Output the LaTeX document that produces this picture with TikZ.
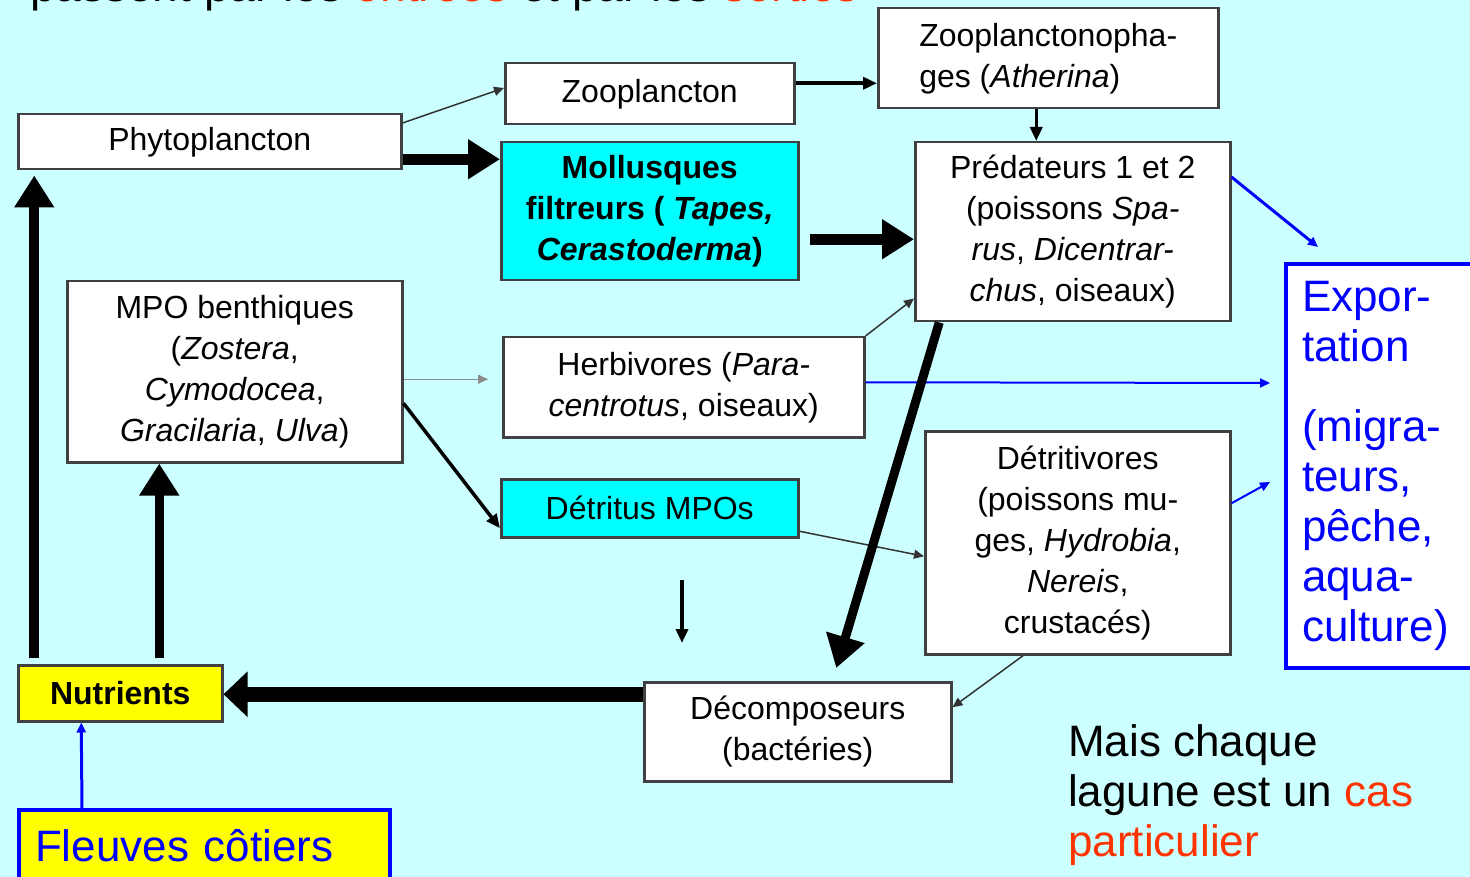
\documentclass[tikz,border=0pt]{standalone}
\usepackage{fontspec}
\setmainfont{Liberation Sans}
\usepackage{xcolor}
\usetikzlibrary{arrows.meta,calc}

\definecolor{lagoon}{HTML}{CCFFFF}
\definecolor{cyanbox}{HTML}{00FFFF}
\definecolor{expblue}{HTML}{0000FF}
\definecolor{redtxt}{HTML}{FF3300}
\definecolor{nutyellow}{HTML}{FFFF00}

\newcommand{\boxfont}{\fontsize{32}{41}\selectfont}
\newcommand{\bigfont}{\fontsize{44}{50}\selectfont}

\begin{document}
\begin{tikzpicture}[
    x=1pt, y=-1pt,
    box/.style={rectangle, draw=black!75, line width=2.5pt, fill=white, align=center, anchor=north west, inner sep=0pt, font=\boxfont},
    thinarr/.style={-{Triangle[length=10pt,width=9pt]}, line width=1.5pt, draw=black!80},
    midarr/.style={-{Triangle[length=14pt,width=12pt]}, line width=3.5pt},
    fatarr/.style={-{Triangle[length=32pt,width=38pt]}, line width=11pt},
    bluearr/.style={-{Triangle[length=10pt,width=9pt]}, line width=2pt, draw=expblue}
]
\useasboundingbox (0,0) rectangle (1470,877);
\fill[lagoon] (0,0) rectangle (1470,877);

% title line, cut by the top edge
\node[font=\fontsize{46}{50}\selectfont, anchor=base west, inner sep=0pt] (intro) at (30,2)
  {passent par les \textcolor{redtxt}{entrées} et par les \textcolor{redtxt}{sorties}};

\node[box, minimum width=383pt, minimum height=55pt] (phyto) at (17,113) {Phytoplancton};
\node[box, minimum width=289pt, minimum height=61pt] (zoo) at (504,62) {Zooplancton};
\node[box, minimum width=340pt, minimum height=100pt, align=left] (zph) at (877,7)
  {Zooplanctonopha-\\ges (\textit{Atherina})};
\node[box, fill=cyanbox, minimum width=297pt, minimum height=138pt, font=\boxfont\bfseries] (mollu) at (500,141)
  {Mollusques\\filtreurs ( \textit{Tapes,}\\\textit{Cerastoderma})};
\node[box, minimum width=315pt, minimum height=179pt] (pred) at (914,141)
  {Prédateurs 1 et 2\\(poissons \textit{Spa-}\\\textit{rus}, \textit{Dicentrar-}\\\textit{chus}, oiseaux)};
\node[box, draw=expblue, line width=4pt, minimum width=200pt, minimum height=404pt, align=left, text width=168pt, font=\bigfont, text=expblue] (export) at (1284,262)
  {Expor-\\tation\\[30pt](migra-\\teurs,\\pêche,\\aqua-\\culture)};

\node[box, minimum width=335pt, minimum height=181pt] (mpo) at (66,280)
  {MPO benthiques\\(\textit{Zostera},\\\textit{Cymodocea},\\\textit{Gracilaria}, \textit{Ulva})};
\node[box, minimum width=361pt, minimum height=100pt] (herb) at (502,336)
  {Herbivores (\textit{Para-}\\\textit{centrotus}, oiseaux)};
\node[box, fill=cyanbox, minimum width=297pt, minimum height=58pt] (detri) at (500,478) {Détritus MPOs};
\node[box, minimum width=305pt, minimum height=223pt] (detv) at (924,430)
  {Détritivores\\(poissons mu-\\ges, \textit{Hydrobia},\\\textit{Nereis},\\crustacés)};

\node[box, fill=nutyellow, minimum width=204pt, minimum height=56pt, font=\boxfont\bfseries] (nutr) at (17,664) {Nutrients};
\node[box, minimum width=307pt, minimum height=99pt] (decomp) at (643,681) {Décomposeurs\\(bactéries)};
\node[box, fill=nutyellow, draw=expblue, line width=4pt, minimum width=371pt, minimum height=72pt, align=left, text width=339pt, font=\bigfont, text=expblue] (fleuves) at (17,808)
  {Fleuves côtiers};

\node[font=\bigfont, align=left, anchor=north west, inner sep=0pt] (mais) at (1068,724)
  {Mais chaque\\lagune est un \textcolor{redtxt}{cas}\\\textcolor{redtxt}{particulier}};

\coordinate (dstart) at (682,580);
\coordinate (dend) at (682,643);

\draw[thinarr] ($(phyto.north east)+(0,10)$) -- ($(zoo.north west)+(0,26)$);
\draw[fatarr] ($(phyto.east)+(0,17.5)$) -- ($(mollu.west)+(0,-52)$);
\draw[midarr] ($(zoo.east)+(0,-10.5)$) -- ($(zph.west)+(0,25)$);
\draw[midarr] ($(zph.south)+(-12,0)$) -- ($(pred.north)+(-36.5,0)$);
\draw[fatarr] ($(mollu.east)+(10,28)$) -- ($(pred.west)+(0,7.5)$);
\draw[thinarr] (herb.north east) -- ($(pred.south west)+(0,-24)$);
\draw[bluearr] ($(herb.east)+(0,-5)$) -- ($(export.west)+(-14,-83)$);
\draw[thinarr, draw=black!45] ($(mpo.east)+(0,7.5)$) -- ($(herb.west)+(-14,-8)$);
\draw[midarr] ($(mpo.east)+(0,31.5)$) -- ($(detri.west)+(0,20)$);
\draw[thinarr] ($(detri.east)+(0,23)$) -- ($(detv.west)+(0,13.5)$);
\draw[fatarr, line width=9pt] ($(pred.south)+(-133.5,0)$) -- ($(decomp.north)+(38.5,-13)$);
\draw[bluearr, line width=3pt] ($(pred.north east)+(0,36)$) -- ($(export.north west)+(34,-15)$);
\draw[bluearr] ($(detv.east)+(0,-39.5)$) -- ($(export.west)+(-14,16)$);
\draw[thinarr] ($(detv.south)+(-54.5,0)$) -- ($(decomp.east)+(0,-24.5)$);
\draw[midarr] (dstart) -- (dend);
\draw[fatarr, line width=15pt, -{Triangle[length=24pt,width=44pt]}] ($(decomp.west)+(0,-37.5)$) -- ($(nutr.east)+(0,1)$);
\draw[fatarr, line width=10pt] ($(nutr.north)+(-86,-6)$) -- ($(phyto.south)+(-175.5,5)$);
\draw[fatarr, line width=9pt] ($(nutr.north)+(39,-6)$) -- (mpo.south -| {$(nutr.north)+(39,0)$});
\draw[bluearr, line width=3pt] ($(fleuves.north)+(-122.5,0)$) -- ($(nutr.south)+(-39,0)$);

\end{tikzpicture}
\end{document}
